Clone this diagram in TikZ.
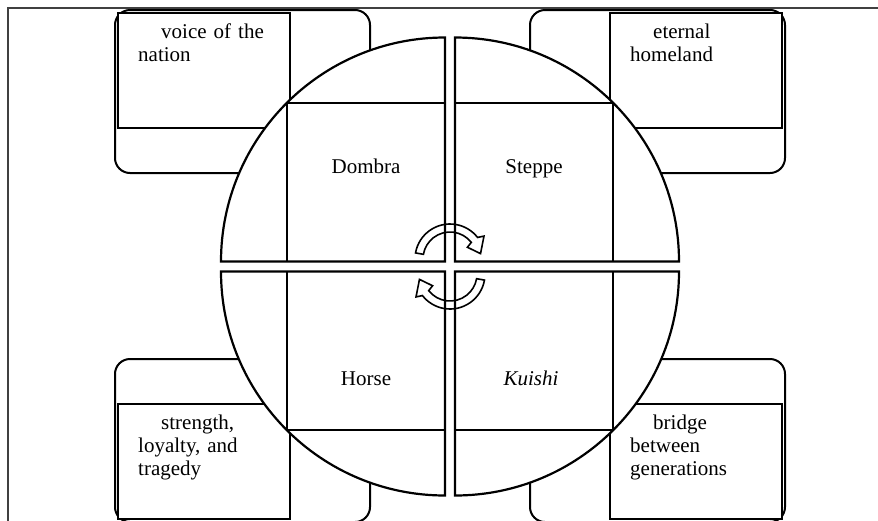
\documentclass[tikz,border=0pt]{standalone}
\usepackage{fontspec}
\setmainfont{Liberation Serif}
\begin{document}
\begin{tikzpicture}[x=1pt,y=-1pt,
  frame/.style={draw=black!75,line width=1.3pt},
  cardbox/.style={draw=black,line width=2pt,rounded corners=15pt,fill=white},
  textbox/.style={draw=black,line width=2pt,fill=white},
  quad/.style={draw=black,line width=2.2pt,fill=white},
  sqline/.style={draw=black,line width=1.9pt},
  word/.style={font=\fontsize{21}{23}\selectfont,inner sep=0pt,anchor=base},
  cardtext/.style={font=\fontsize{21}{23}\selectfont,inner sep=0pt,anchor=base west,text width=150pt,align=left},
  cyc/.style={draw=black,line width=1.6pt,fill=none,line join=miter}
]
\useasboundingbox (0,0) rectangle (878,520);
\clip (0,0) rectangle (878,520);
% outer frame (extends beyond the page at right and bottom)
\draw[frame] (8,8) rectangle (900,540);
% corner cards
\draw[cardbox] (115,10) rectangle (370,173);
\draw[textbox] (118,13) rectangle (290,128);
\draw[cardbox] (530,10) rectangle (785,173);
\draw[textbox] (610,13) rectangle (782,128);
\draw[cardbox] (115,359) rectangle (370,522);
\draw[textbox] (118,404) rectangle (290,519);
\draw[cardbox] (530,359) rectangle (785,522);
\draw[textbox] (610,404) rectangle (782,519);
% card texts
\node[cardtext] (tvoice) at (138,38) {\noindent\hspace*{23pt}voice of the\\nation};
\node[cardtext] (thome) at (630,38) {\noindent\hspace*{23pt}eternal\\homeland};
\node[cardtext] (tstrength) at (138,429) {\noindent\hspace*{23pt}strength,\\loyalty, and\\tragedy};
\node[cardtext] (tbridge) at (630,429) {\noindent\hspace*{23pt}bridge\\between\\generations};
% quadrants
\coordinate (ctl) at (445,261.5);
\coordinate (ctr) at (455,261.5);
\coordinate (cbl) at (445,271.5);
\coordinate (cbr) at (455,271.5);
\draw[quad] (ctl) -- ++(-224,0) arc[start angle=180,end angle=270,radius=224] -- cycle;
\draw[quad] (ctr) -- ++(0,-224) arc[start angle=270,end angle=360,radius=224] -- cycle;
\draw[quad] (cbl) -- ++(0,224) arc[start angle=90,end angle=180,radius=224] -- cycle;
\draw[quad] (cbr) -- ++(224,0) arc[start angle=0,end angle=90,radius=224] -- cycle;
% inner squares
\coordinate (stl) at (286.6,103.1);
\coordinate (str) at (613.4,103.1);
\coordinate (sbl) at (286.6,429.9);
\coordinate (sbr) at (613.4,429.9);
\draw[sqline] (stl |- ctl) -- (stl) -- (stl -| ctl);
\draw[sqline] (str |- ctr) -- (str) -- (str -| ctr);
\draw[sqline] (sbl |- cbl) -- (sbl) -- (sbl -| cbl);
\draw[sqline] (sbr |- cbr) -- (sbr) -- (sbr -| cbr);
% labels
\node[word] (dombra) at (366,173) {Dombra};
\node[word] (steppe) at (534,173) {Steppe};
\node[word] (horse) at (366,385) {Horse};
\node[word] (kuishi) at (531,385) {\itshape Kuishi};
% circular arrows
\begin{scope}[shift={(450,259)}]
\draw[cyc] (-170:35) arc[start angle=-170,end angle=-38,radius=35] -- (-34:41) -- (-10:31) -- (-34:21) -- (-38:27) arc[start angle=-38,end angle=-170,radius=27] -- cycle;
\end{scope}
\begin{scope}[rotate around={180:(450,266.5)}]
\begin{scope}[shift={(450,259)}]
\draw[cyc] (-170:35) arc[start angle=-170,end angle=-38,radius=35] -- (-34:41) -- (-10:31) -- (-34:21) -- (-38:27) arc[start angle=-38,end angle=-170,radius=27] -- cycle;
\end{scope}
\end{scope}
\end{tikzpicture}
\end{document}
